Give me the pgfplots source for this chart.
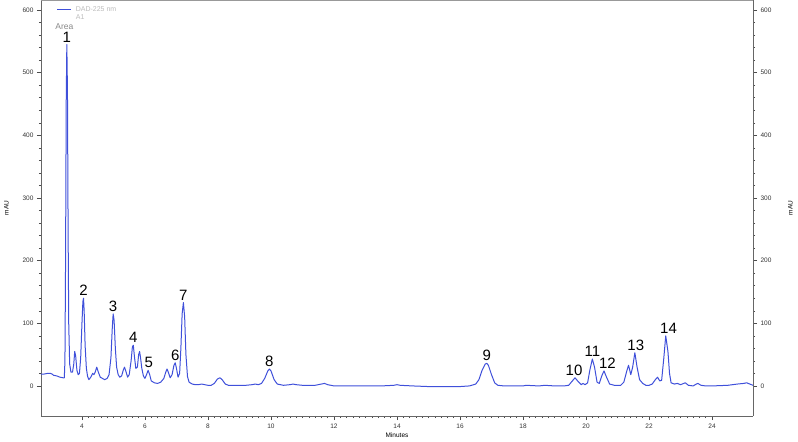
\documentclass[border=0pt]{standalone}
\usepackage{pgfplots}
\pgfplotsset{compat=1.18}
\usepackage{fontspec}
\setmainfont{Liberation Sans}
\definecolor{traceblue}{HTML}{3F50DA}
\definecolor{lgray}{HTML}{BBBBBB}
\definecolor{mgray}{HTML}{888888}
\begin{document}
\begin{tikzpicture}
\pgfplotsset{
  common/.style={
    scale only axis, width=712pt, height=416pt,
    xmin=2.7, xmax=25.3, ymin=-48, ymax=616,
    tick align=outside,
    ytick={0,100,200,300,400,500,600},
    minor y tick num=4,
    tick style={black!70, line width=0.5pt},
    major tick length=4pt, minor tick length=2pt,
    tick label style={font=\fontsize{6.5}{7}\selectfont, text=black!80},
    /pgf/number format/assume math mode=true,
    ylabel={mAU},
    ylabel style={font=\fontsize{6.5}{7}\selectfont},
  }
}
\begin{axis}[common, name=main,
  axis line style={black!60, line width=0.6pt},
  axis y line*=left, axis x line*=bottom,
  xtick={4,6,...,24}, minor x tick num=9,
  xlabel={Minutes},
  xlabel style={font=\fontsize{6.5}{7}\selectfont, yshift=2pt},
  ylabel style={yshift=7pt},
  clip=false]
\draw[black!40, line width=0.6pt] (rel axis cs:0,1) -- (rel axis cs:1,1);
\addplot[traceblue, line width=1pt, line join=round] coordinates {
(2.7,19)(2.8,19)(2.9,20)(3.0,20)(3.05,19)(3.1,17)(3.2,16)(3.3,14)(3.4,13)(3.44,13)
(3.46,40)(3.48,200)(3.50,450)(3.52,545)(3.54,470)(3.56,250)(3.58,100)(3.61,35)(3.65,22)(3.7,22)
(3.74,35)(3.77,55)(3.80,48)(3.84,25)(3.88,18)(3.92,20)(3.96,45)(4.0,100)(4.03,135)(4.05,140)
(4.07,120)(4.10,65)(4.14,28)(4.18,15)(4.22,10)(4.28,14)(4.34,20)(4.38,18)(4.42,22)(4.47,30)
(4.52,22)(4.58,14)(4.65,12)(4.72,10)(4.8,12)(4.86,18)(4.92,45)(4.96,90)(4.99,115)(5.02,105)
(5.06,60)(5.1,30)(5.15,18)(5.2,14)(5.26,16)(5.31,25)(5.35,30)(5.39,24)(5.45,14)(5.5,18)
(5.56,40)(5.6,62)(5.63,65)(5.67,45)(5.71,28)(5.76,30)(5.8,50)(5.83,55)(5.86,45)(5.9,28)
(5.95,16)(6.0,12)(6.05,18)(6.1,25)(6.15,18)(6.2,8)(6.3,5)(6.4,4)(6.5,6)(6.6,12)
(6.66,22)(6.7,27)(6.74,22)(6.8,13)(6.86,18)(6.92,33)(6.96,37)(7.0,28)(7.05,14)(7.1,20)
(7.14,60)(7.18,115)(7.22,133)(7.26,110)(7.3,50)(7.35,15)(7.4,6)(7.5,3)(7.6,2)(7.7,2)
(7.8,3)(7.9,2)(8.0,1)(8.1,1)(8.2,4)(8.3,11)(8.38,13)(8.45,10)(8.55,3)(8.65,1)
(8.8,1)(9.0,1)(9.2,1)(9.4,2)(9.5,3)(9.6,2)(9.7,4)(9.8,12)(9.9,24)(9.95,27)
(10.0,24)(10.1,10)(10.2,3)(10.4,1)(10.6,2)(10.7,3)(10.8,2)(11.0,1)(11.4,1)(11.6,3)
(11.7,4)(11.8,2)(12.0,0)(13,0)(13.5,0)(13.9,1)(14.0,2)(14.1,1)(14.5,0)(15,-1)
(15.5,-1)(16.0,-1)(16.3,0)(16.5,3)(16.6,10)(16.7,25)(16.8,35)(16.85,36)(16.9,33)(17.0,18)
(17.1,5)(17.2,1)(17.4,0)(17.8,0)(18.0,0)(18.1,1)(18.5,0)(18.7,1)(19.0,0)(19.3,0)
(19.45,1)(19.55,7)(19.65,13)(19.75,7)(19.85,2)(19.9,4)(19.97,2)(20.05,5)(20.12,25)(20.2,43)
(20.27,30)(20.35,6)(20.42,4)(20.5,16)(20.57,24)(20.65,14)(20.75,3)(20.9,1)(21.1,1)(21.2,6)
(21.3,25)(21.35,33)(21.42,18)(21.48,30)(21.55,53)(21.62,30)(21.7,10)(21.8,4)(21.9,1)(22.0,1)
(22.1,3)(22.2,10)(22.27,14)(22.34,8)(22.4,9)(22.47,45)(22.53,80)(22.6,55)(22.65,20)(22.7,5)
(22.8,3)(22.9,4)(23.0,2)(23.1,4)(23.15,5)(23.25,1)(23.4,0)(23.5,3)(23.55,4)(23.65,1)
(23.8,0)(24.0,0)(24.5,1)(24.8,3)(25.0,4)(25.1,5)(25.2,3)(25.3,1)
};
\begin{scope}[every node/.style={font=\fontsize{15}{16}\selectfont, anchor=south, inner sep=1pt}]
\node at (axis cs:3.52,547) {1};
\node at (axis cs:4.05,142) {2};
\node at (axis cs:4.99,117) {3};
\node at (axis cs:5.63,67) {4};
\node at (axis cs:6.12,27) {5};
\node at (axis cs:6.96,39) {6};
\node at (axis cs:7.22,135) {7};
\node at (axis cs:9.95,29) {8};
\node at (axis cs:16.85,38) {9};
\node at (axis cs:19.62,15) {10};
\node at (axis cs:20.2,45) {11};
\node at (axis cs:20.68,26) {12};
\node at (axis cs:21.58,55) {13};
\node at (axis cs:22.62,82) {14};
\end{scope}
\fill[traceblue] (axis cs:3.2,599.8) rectangle (axis cs:3.65,602.2);
\node[anchor=west, font=\fontsize{7}{8}\selectfont, text=lgray, inner sep=0pt] at (axis cs:3.8,601) {DAD-225 nm};
\node[anchor=west, font=\fontsize{7}{8}\selectfont, text=lgray, inner sep=0pt] at (axis cs:3.8,588) {A1};
\node[anchor=west, font=\fontsize{8.5}{9}\selectfont, text=mgray, inner sep=0pt] at (axis cs:3.15,574) {Area};
\end{axis}
\begin{axis}[common,
  axis line style={black!60, line width=0.6pt},
  axis y line*=right, hide x axis,
  ylabel style={yshift=-10pt}]
\end{axis}
\pgfresetboundingbox
\path (main.south west) ++(-41pt,-25pt) coordinate (bl);
\path (main.north east) ++(45pt,0pt) coordinate (tr);
\path[use as bounding box] (bl) rectangle (tr);
\end{tikzpicture}
\end{document}
